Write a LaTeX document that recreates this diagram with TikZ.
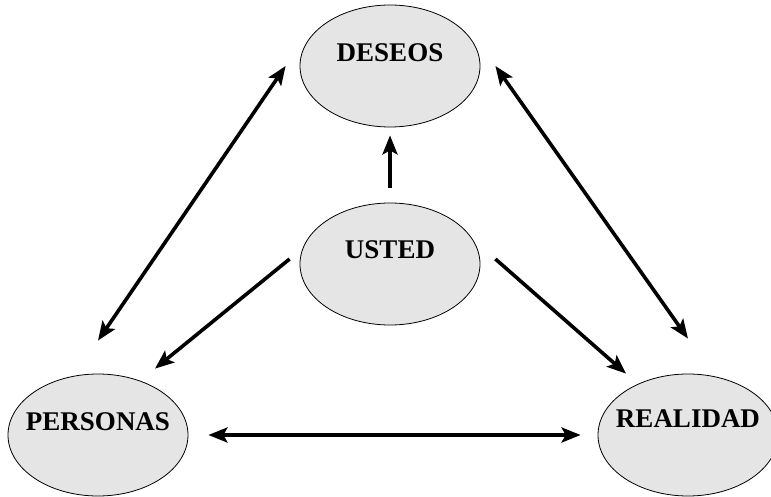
\documentclass[tikz,border=0pt]{standalone}
\usepackage{fontspec}
\setmainfont{Liberation Serif}
\usetikzlibrary{shapes.geometric,arrows.meta}
\begin{document}
\begin{tikzpicture}
  [x=1pt,y=-1pt,
   bubble/.style={ellipse,draw,line width=0.8pt,fill=gray!20,minimum width=180pt,minimum height=122pt,inner sep=0pt},
   txt/.style={font=\fontsize{27}{31}\selectfont\bfseries},
   arr/.style={line width=3.6pt,>={Stealth[length=19pt,width=15pt,inset=4pt]}}]
  \useasboundingbox (0,0) rectangle (771,497);
  \node[bubble,label={[txt,yshift=13pt]center:DESEOS}] (deseos) at (390,66) {};
  \node[bubble,label={[txt,yshift=14pt]center:USTED}] (usted) at (390,264) {};
  \node[bubble,label={[txt,yshift=13pt]center:PERSONAS}] (personas) at (98,435) {};
  \node[bubble,label={[txt,yshift=16pt]center:REALIDAD}] (realidad) at (688,435) {};

  \draw[arr,->] ([yshift=15pt]usted.north) -- ([yshift=-8pt]deseos.south);
  \draw[arr,->] ([xshift=-10pt,yshift=5pt]usted.west) -- ([xshift=57pt,yshift=5pt]personas.north);
  \draw[arr,->] ([xshift=15pt,yshift=5pt]usted.east) -- ([xshift=-62pt]realidad.north);
  \draw[arr,<->] ([xshift=-14pt]deseos.west) -- ([yshift=33pt]personas.north);
  \draw[arr,<->] ([xshift=15pt]deseos.east) -- ([yshift=35pt]realidad.north);
  \draw[arr,<->] ([xshift=20pt]personas.east) -- ([xshift=-17pt]realidad.west);
\end{tikzpicture}
\end{document}
